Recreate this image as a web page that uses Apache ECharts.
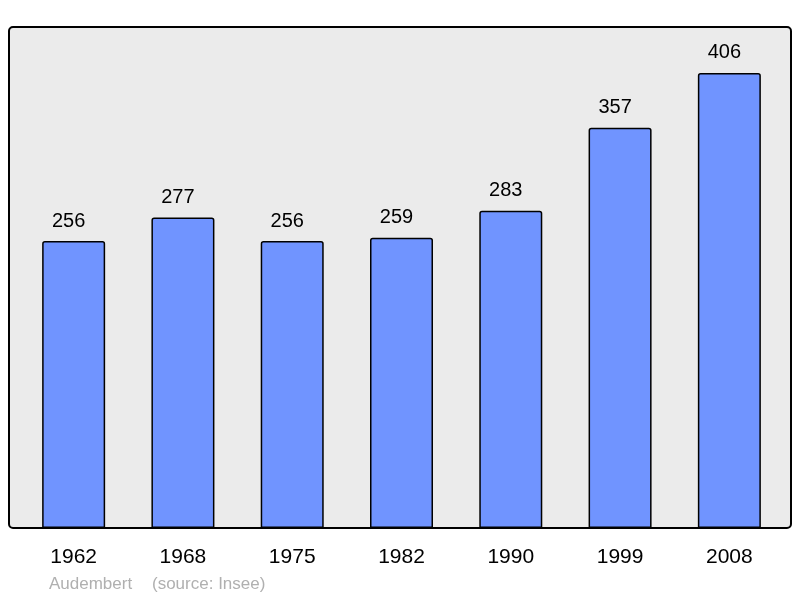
<!DOCTYPE html>
<html><head><meta charset="utf-8">
<script src="https://cdn.jsdelivr.net/npm/echarts@6/dist/echarts.min.js"></script>
<style>html,body{margin:0;padding:0;background:#fff}#c{width:800px;height:598px}</style>
</head><body><div id="c"></div>
<script>
const years = ['1962','1968','1975','1982','1990','1999','2008'];
const population = [256,277,256,259,283,357,406];
const footerName = 'Audembert';
const footerSource = '(source: Insee)';

const chart = echarts.init(document.getElementById('c'), null, {renderer:'canvas'});
chart.setOption({
  animation:false,
  backgroundColor:'#ffffff',
  graphic:[
    {type:'rect', z:-10, shape:{x:9,y:27,width:782,height:501,r:4},
     style:{fill:'#ebebeb',stroke:'#000',lineWidth:2}},
    {type:'text', left:49, top:576, style:{text:footerName, fill:'#b0b0b0', font:'17px "Liberation Sans", Arial, sans-serif'}},
    {type:'text', left:152, top:576, style:{text:footerSource, fill:'#b0b0b0', font:'17px "Liberation Sans", Arial, sans-serif'}}
  ],
  grid:{left:19, right:16, top:27, bottom:70, containLabel:false},
  xAxis:{type:'category', data:years, boundaryGap:true,
    axisLine:{show:false}, axisTick:{show:false},
    axisLabel:{color:'#000', fontSize:21, fontFamily:'"Liberation Sans", Arial, sans-serif', margin:19}},
  yAxis:{type:'value', min:0, max:447, show:false, splitLine:{show:false}},
  series:[{type:'bar', data:population, barWidth:63,
    itemStyle:{color:'#7094ff', borderColor:'#000', borderWidth:1.5, borderRadius:[2,2,0,0]},
    label:{show:true, position:'top', distance:10, offset:[-5,0], color:'#000', fontSize:20,
      fontFamily:'"Liberation Sans", Arial, sans-serif'}}]
});
</script></body></html>
